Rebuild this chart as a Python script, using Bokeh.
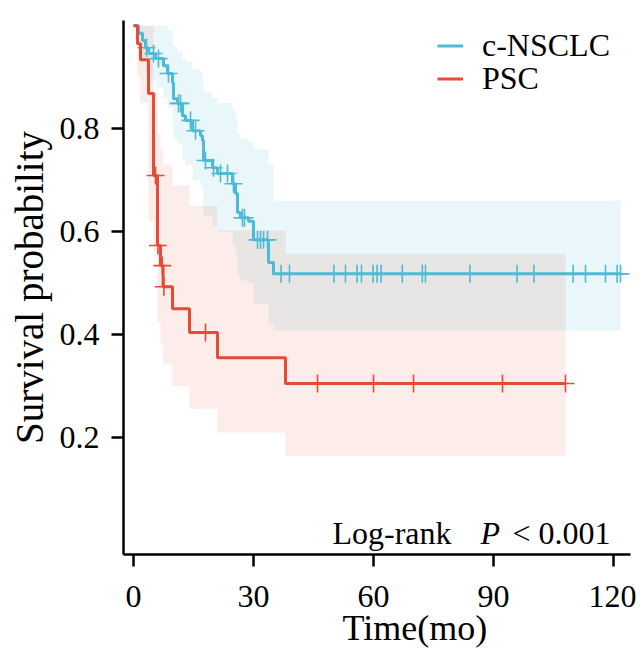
import numpy as np
from bokeh.plotting import figure
from bokeh.models import Range1d, FixedTicker, Label, Legend, LegendItem, Title
from bokeh.embed import file_html
from bokeh.resources import INLINE

# ---------------- data ----------------
groups = ["c-NSCLC", "PSC"]

# c-NSCLC Kaplan-Meier estimate (time in months, survival probability)
nsclc_time = [0, 1.25, 2.25, 3, 3.75, 5.5, 7.5, 8.5, 9.75, 10, 11, 12.25, 13, 14.75,
              16.75, 17.25, 17.5, 19.75, 21, 24.75, 25.5, 26, 26.75, 28.75, 30, 33.75, 35]
nsclc_surv = [1.0, 0.985, 0.971, 0.957, 0.946, 0.936, 0.922, 0.907, 0.889, 0.858, 0.849,
              0.825, 0.816, 0.796, 0.786, 0.777, 0.738, 0.724, 0.713, 0.693, 0.674, 0.637,
              0.627, 0.62, 0.584, 0.54, 0.518]
nsclc_upper = [1.0, 1.0, 1.0, 1.0, 1.0, 1.0, 1.0, 0.99, 0.98, 0.96, 0.95, 0.935, 0.93, 0.915,
               0.91, 0.90, 0.87, 0.86, 0.85, 0.835, 0.82, 0.79, 0.78, 0.775, 0.76, 0.73, 0.66]
nsclc_lower = [1.0, 0.957, 0.93, 0.91, 0.895, 0.88, 0.86, 0.84, 0.815, 0.78, 0.77, 0.74, 0.73,
               0.70, 0.69, 0.68, 0.63, 0.61, 0.60, 0.575, 0.555, 0.515, 0.505, 0.50, 0.46,
               0.42, 0.408]
nsclc_censor = [3.25, 5.0, 6.25, 8.75, 11.25, 11.75, 14.25, 15.5, 18, 20, 21.75, 23.5, 25,
                27.25, 27.75, 31, 31.75, 32.5, 33.5, 36.9, 39, 50.1, 53, 55.9, 57, 59.9,
                60.9, 61.9, 67.2, 72.2, 73, 84.1, 95.9, 100.1, 109.9, 113, 118, 120.9, 121.75]

# PSC Kaplan-Meier estimate
psc_time = [0, 1, 1.75, 3.75, 5, 6, 6.75, 7.4, 9.75, 14, 21, 38]
psc_surv = [1.0, 0.965, 0.934, 0.868, 0.709, 0.573, 0.534, 0.493, 0.45, 0.404, 0.355, 0.305]
psc_upper = [1.0, 1.0, 1.0, 1.0, 0.87, 0.79, 0.76, 0.73, 0.69, 0.65, 0.602, 0.557]
psc_lower = [1.0, 0.9, 0.85, 0.62, 0.56, 0.423, 0.38, 0.344, 0.30, 0.256, 0.21, 0.165]
psc_censor = [5.5, 6.1, 7.2, 7.6, 18, 46, 60, 70, 92.25, 108]

x_ticks = [0, 30, 60, 90, 120]
y_ticks = [0.2, 0.4, 0.6, 0.8]
x_title = "Time(mo)"
y_title = "Survival probability"
test_text = "Log-rank"
p_text = "P"
p_value_text = "< 0.001"

BLUE = "#4DBBD5"
RED = "#E64B35"
FONT = "Liberation Serif"


def step_path(t, v, t_end):
    xs, ys = [], []
    for i in range(len(t)):
        x1 = t[i + 1] if i + 1 < len(t) else t_end
        xs += [t[i], x1]
        ys += [v[i], v[i]]
    return xs, ys


def value_at(t, v, q):
    idx = np.searchsorted(np.asarray(t), np.asarray(q), side="right") - 1
    return [v[i] for i in idx]


p = figure(frame_width=507, frame_height=534, output_backend="svg", toolbar_location=None,
           x_range=Range1d(-2.5, 124.25), y_range=Range1d(-0.027, 1.01),
           min_border_left=123, min_border_right=6, min_border_top=20,
           min_border_bottom=94)
p.grid.visible = False
p.outline_line_color = None
p.background_fill_color = "white"
p.border_fill_color = "white"

series = [
    (nsclc_time, nsclc_surv, nsclc_upper, nsclc_lower, nsclc_censor, BLUE, 0.12),
    (psc_time, psc_surv, psc_upper, psc_lower, psc_censor, RED, 0.10),
]

# confidence bands
for t, s, up, lo, cens, col, alpha in series:
    t_end = max(cens)
    bx, bu = step_path(t, up, t_end)
    _, bl = step_path(t, lo, t_end)
    p.varea(x=bx, y1=bl, y2=bu, fill_color=col, fill_alpha=alpha)

renderers = []
for t, s, up, lo, cens, col, alpha in series:
    t_end = max(cens)
    lx, ly = step_path(t, s, t_end)
    r = p.line(lx, ly, line_color=col, line_width=3)
    renderers.append(r)
    p.scatter(cens, value_at(t, s, cens), marker="cross", size=18,
              line_color=col, line_width=1.6)

# one legend box per group so the row spacing matches the reference
legend_bottoms = [490, 457]   # screen px above the frame bottom
for g, r, yb in zip(groups, renderers, legend_bottoms):
    lg = Legend(items=[LegendItem(label=g, renderers=[r])], location=(314, yb))
    lg.label_text_font = FONT
    lg.label_text_font_size = "32px"
    lg.label_text_color = "black"
    lg.glyph_width = 26
    lg.glyph_height = 33
    lg.label_height = 33
    lg.label_standoff = 19
    lg.spacing = 0
    lg.padding = 0
    lg.margin = 0
    lg.border_line_color = None
    lg.background_fill_alpha = 0
    p.add_layout(lg)

for ax in (p.xaxis[0], p.yaxis[0]):
    ax.axis_line_width = 2.5
    ax.axis_line_color = "black"
    ax.major_tick_line_width = 2.5
    ax.major_tick_line_color = "black"
    ax.major_tick_out = 12
    ax.major_tick_in = 0
    ax.minor_tick_out = 0
    ax.minor_tick_in = 0
    ax.major_label_text_font = FONT
    ax.major_label_text_font_size = "32px"
    ax.major_label_text_color = "black"

p.xaxis.ticker = FixedTicker(ticks=x_ticks)
p.yaxis.ticker = FixedTicker(ticks=y_ticks)
p.xaxis.major_label_standoff = 19
p.yaxis.major_label_standoff = 12

p.yaxis.axis_label = y_title
p.yaxis.axis_label_text_font = FONT
p.yaxis.axis_label_text_font_size = "39px"
p.yaxis.axis_label_text_font_style = "normal"
p.yaxis.axis_label_text_color = "black"
p.yaxis.axis_label_standoff = 6

# x-axis title (below the axis, shifted right as in the reference)
p.add_layout(Title(text=x_title, align="left", offset=219, standoff=-8,
                   text_font=FONT, text_font_size="36px", text_font_style="normal",
                   text_color="black"), "below")

# log-rank annotation
p.add_layout(Label(x=49.75, y=0.0138, text=test_text, text_font=FONT, text_font_size="32px",
                   text_align="left", text_baseline="alphabetic", text_color="black"))
p.add_layout(Label(x=86.75, y=0.0138, text=p_text, text_font=FONT, text_font_size="32px",
                   text_font_style="italic", text_align="left", text_baseline="alphabetic",
                   text_color="black"))
p.add_layout(Label(x=94.75, y=0.0138, text=p_value_text, text_font=FONT, text_font_size="32px",
                   text_align="left", text_baseline="alphabetic", text_color="black"))

open("out.html", "w").write(file_html(p, INLINE))
